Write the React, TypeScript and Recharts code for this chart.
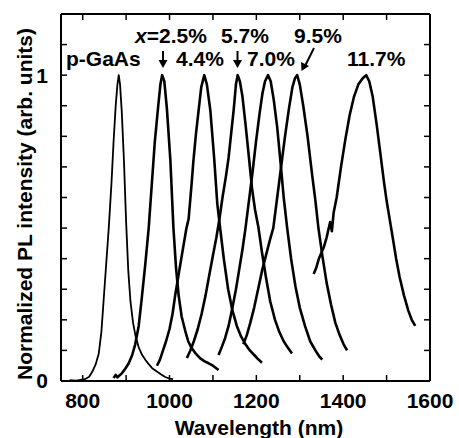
import React from 'react';
import { LineChart, Line, XAxis, YAxis } from 'recharts';

// PL spectra: [wavelength nm, normalized intensity]
const pGaAs: [number, number][] = [
  [770, 0.003], [785, 0.001], [795, 0.004], [805, 0.006], [815, 0.014], [822, 0.03],
  [830, 0.055], [837, 0.09], [843, 0.16], [848, 0.26], [854, 0.38], [860, 0.5],
  [866, 0.64], [871, 0.78], [876, 0.9], [880, 0.97], [883, 1.0], [886, 0.97],
  [890, 0.88], [895, 0.72], [900, 0.52], [905, 0.36], [910, 0.26], [916, 0.19],
  [922, 0.145], [929, 0.11], [937, 0.085], [945, 0.068], [952, 0.055], [960, 0.042],
  [970, 0.032], [980, 0.022], [990, 0.013], [1000, 0.008], [1008, 0.006],
];
const x25: [number, number][] = [
  [871, 0.01], [876, 0.02], [880, 0.012], [890, 0.025], [898, 0.04], [906, 0.058],
  [914, 0.085], [921, 0.12], [929, 0.18], [936, 0.27], [944, 0.38], [952, 0.5],
  [959, 0.64], [966, 0.78], [974, 0.9], [979, 0.97], [983, 1.0], [988, 0.98],
  [994, 0.89], [1002, 0.72], [1009, 0.5], [1015, 0.37], [1021, 0.28], [1028, 0.21],
  [1036, 0.165], [1043, 0.13], [1050, 0.11], [1060, 0.09], [1070, 0.075], [1080, 0.065],
  [1090, 0.058], [1100, 0.05], [1113, 0.036],
];
const x44: [number, number][] = [
  [971, 0.05], [978, 0.07], [985, 0.1], [992, 0.13], [1000, 0.17], [1007, 0.22],
  [1013, 0.28], [1020, 0.34], [1027, 0.4], [1033, 0.45], [1039, 0.5], [1044, 0.53],
  [1050, 0.63], [1055, 0.72], [1061, 0.81], [1067, 0.885], [1073, 0.96], [1080, 1.0],
  [1086, 0.97], [1094, 0.885], [1103, 0.725], [1110, 0.58], [1117, 0.495], [1125, 0.4],
  [1135, 0.3], [1145, 0.23], [1155, 0.18], [1165, 0.145], [1175, 0.12], [1185, 0.1],
  [1195, 0.085], [1205, 0.07], [1213, 0.06],
];
const x57: [number, number][] = [
  [1040, 0.075], [1048, 0.1], [1056, 0.13], [1065, 0.17], [1074, 0.22], [1083, 0.28],
  [1092, 0.35], [1100, 0.41], [1108, 0.47], [1115, 0.53], [1122, 0.6], [1130, 0.67],
  [1136, 0.73], [1142, 0.81], [1148, 0.89], [1153, 0.97], [1157, 1.0], [1162, 0.98],
  [1168, 0.93], [1175, 0.84], [1183, 0.73], [1190, 0.63], [1197, 0.56], [1205, 0.5],
  [1213, 0.42], [1222, 0.34], [1232, 0.26], [1243, 0.2], [1253, 0.16], [1263, 0.13],
  [1272, 0.11], [1282, 0.09],
];
const x70: [number, number][] = [
  [1113, 0.085], [1120, 0.11], [1128, 0.14], [1136, 0.18], [1145, 0.24], [1153, 0.3],
  [1160, 0.36], [1168, 0.43], [1175, 0.5], [1183, 0.59], [1191, 0.68], [1199, 0.78],
  [1207, 0.87], [1214, 0.94], [1220, 0.98], [1227, 1.0], [1233, 0.98], [1240, 0.92],
  [1248, 0.83], [1256, 0.71], [1263, 0.6], [1271, 0.5], [1280, 0.4], [1290, 0.31],
  [1300, 0.24], [1312, 0.18], [1324, 0.13], [1336, 0.1], [1345, 0.08], [1352, 0.07],
];
const x95: [number, number][] = [
  [1170, 0.12], [1178, 0.15], [1186, 0.19], [1195, 0.24], [1204, 0.3], [1213, 0.36],
  [1222, 0.41], [1231, 0.46], [1239, 0.5], [1248, 0.6], [1257, 0.7], [1266, 0.8],
  [1275, 0.89], [1283, 0.96], [1289, 0.99], [1294, 1.0], [1300, 0.97], [1308, 0.9],
  [1318, 0.8], [1328, 0.68], [1336, 0.59], [1343, 0.5], [1352, 0.41], [1362, 0.32],
  [1372, 0.25], [1382, 0.19], [1392, 0.15], [1401, 0.12], [1409, 0.1],
];
const x117: [number, number][] = [
  [1332, 0.35], [1338, 0.37], [1344, 0.4], [1350, 0.42], [1356, 0.44], [1362, 0.47],
  [1370, 0.52], [1374, 0.49], [1378, 0.55], [1385, 0.6], [1395, 0.7], [1405, 0.79],
  [1415, 0.87], [1425, 0.93], [1435, 0.97], [1445, 0.99], [1453, 1.0], [1460, 0.98],
  [1468, 0.93], [1477, 0.84], [1486, 0.74], [1494, 0.65], [1500, 0.59], [1507, 0.53],
  [1514, 0.47], [1522, 0.4], [1530, 0.34], [1540, 0.28], [1550, 0.23], [1558, 0.2],
  [1566, 0.18],
];

const series = [
  { name: 'p-GaAs', points: pGaAs, width: 1.8 },
  { name: '2.5%', points: x25, width: 2.6 },
  { name: '4.4%', points: x44, width: 2.6 },
  { name: '5.7%', points: x57, width: 2.6 },
  { name: '7.0%', points: x70, width: 2.6 },
  { name: '9.5%', points: x95, width: 2.6 },
  { name: '11.7%', points: x117, width: 2.6 },
];

const xTicks = [800, 900, 1000, 1100, 1200, 1300, 1400, 1500, 1600];
const yTicks = [0, 0.1, 0.2, 0.3, 0.4, 0.5, 0.6, 0.7, 0.8, 0.9, 1, 1.1, 1.2];
const xDomain: [number, number] = [750, 1600];
const yDomain: [number, number] = [0, 1.2];

const FONT = '"Liberation Sans", Arial, sans-serif';
const tickFont = { fill: '#000', fontSize: 21, fontWeight: 'bold', fontFamily: FONT };
const axisLine = { stroke: '#000', strokeWidth: 2 };
const tickLine = { stroke: '#000', strokeWidth: 1.5 };
const noLabel = () => '';

export default function App() {
  return (
    <div style={{ position: 'absolute', left: 0, top: 0, width: 459, height: 438, background: '#fff' }}>
      <LineChart width={459} height={438} margin={{ top: 14, right: 29, bottom: 0, left: 0 }}>
        {/* label axes */}
        <XAxis
          xAxisId="b" type="number" dataKey="x" domain={xDomain} ticks={xTicks} interval={0}
          allowDataOverflow height={57} tickLine={false} tickMargin={6}
          tickFormatter={(v: number) => (v % 200 === 0 ? String(v) : '')}
          tick={tickFont} axisLine={axisLine}
        />
        <YAxis
          yAxisId="l" type="number" domain={yDomain} ticks={yTicks} interval={0} allowDataOverflow
          width={61} tickLine={false} tickMargin={7}
          tickFormatter={(v: number) => (v === 0 || v === 1 ? String(v) : '')}
          tick={tickFont} axisLine={axisLine}
        />
        {/* inward tick frames on all four sides */}
        <XAxis
          xAxisId="bt" orientation="bottom" mirror type="number" dataKey="x" domain={xDomain}
          ticks={xTicks} interval={0} allowDataOverflow tickSize={6} tickFormatter={noLabel}
          axisLine={axisLine} tickLine={tickLine}
        />
        <XAxis
          xAxisId="t" orientation="top" mirror type="number" dataKey="x" domain={xDomain}
          ticks={xTicks} interval={0} allowDataOverflow tickSize={6} tickFormatter={noLabel}
          axisLine={axisLine} tickLine={tickLine}
        />
        <YAxis
          yAxisId="lt" orientation="left" mirror type="number" domain={yDomain} ticks={yTicks}
          interval={0} allowDataOverflow tickSize={6} tickFormatter={noLabel}
          axisLine={axisLine} tickLine={tickLine}
        />
        <YAxis
          yAxisId="r" orientation="right" mirror type="number" domain={yDomain} ticks={yTicks}
          interval={0} allowDataOverflow tickSize={6} tickFormatter={noLabel}
          axisLine={axisLine} tickLine={tickLine}
        />
        {series.map((s) => (
          <Line
            key={s.name}
            xAxisId="b"
            yAxisId="l"
            data={s.points.map(([x, y]) => ({ x, y }))}
            dataKey="y"
            type="linear"
            stroke="#000"
            strokeWidth={s.width}
            strokeLinejoin="round"
            dot={false}
            activeDot={false}
            isAnimationActive={false}
          />
        ))}
      </LineChart>
      <svg
        width={459}
        height={438}
        style={{ position: 'absolute', left: 0, top: 0, pointerEvents: 'none' }}
        fontFamily={FONT}
        fontWeight="bold"
        fontSize={21}
        fill="#000"
      >
        <text x={259} y={435} textAnchor="middle">Wavelength (nm)</text>
        <text transform="translate(32,204) rotate(-90)" textAnchor="middle">
          Normalized PL intensity (arb. units)
        </text>
        <text x={66} y={66}>p-GaAs</text>
        <text x={135} y={43}>
          <tspan fontStyle="italic">x</tspan>=2.5%
        </text>
        <text x={221} y={43}>5.7%</text>
        <text x={294} y={43}>9.5%</text>
        <text x={176} y={66}>4.4%</text>
        <text x={247} y={66}>7.0%</text>
        <text x={347} y={66}>11.7%</text>
        <g stroke="#000" strokeWidth={2} fill="#000">
          <line x1={163} y1={51} x2={163} y2={63} />
          <path d="M158.5,60 L167.5,60 L163,68 Z" stroke="none" />
          <line x1={237.5} y1={51} x2={237.5} y2={63} />
          <path d="M233,60 L242,60 L237.5,68 Z" stroke="none" />
          <line x1={314} y1={48} x2={305} y2={66} />
          <path d="M301.5,71 L301,62 L309,66 Z" stroke="none" />
        </g>
      </svg>
    </div>
  );
}
